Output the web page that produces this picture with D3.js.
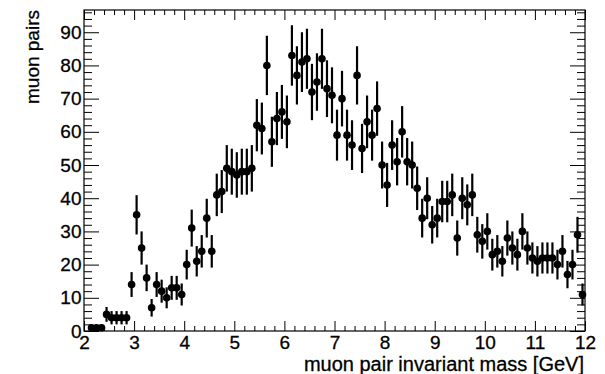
<!DOCTYPE html>
<html>
<head>
<meta charset="utf-8">
<script src="https://cdn.jsdelivr.net/npm/d3@7"></script>
<style>
  html, body { margin: 0; padding: 0; background: #fff; }
  svg { display: block; }
  text { font-family: "Liberation Sans", Arial, Helvetica, sans-serif; fill: #000; stroke: #000; stroke-width: 0.3px; }
</style>
</head>
<body>
<svg id="chart" width="605" height="374"></svg>
<script>
// Bin centres (GeV), 0.1 GeV bins
const massBins = [
  2.05, 2.15, 2.25, 2.35, 2.45, 2.55, 2.65, 2.75, 2.85, 2.95,
  3.05, 3.15, 3.25, 3.35, 3.45, 3.55, 3.65, 3.75, 3.85, 3.95,
  4.05, 4.15, 4.25, 4.35, 4.45, 4.55, 4.65, 4.75, 4.85, 4.95,
  5.05, 5.15, 5.25, 5.35, 5.45, 5.55, 5.65, 5.75, 5.85, 5.95,
  6.05, 6.15, 6.25, 6.35, 6.45, 6.55, 6.65, 6.75, 6.85, 6.95,
  7.05, 7.15, 7.25, 7.35, 7.45, 7.55, 7.65, 7.75, 7.85, 7.95,
  8.05, 8.15, 8.25, 8.35, 8.45, 8.55, 8.65, 8.75, 8.85, 8.95,
  9.05, 9.15, 9.25, 9.35, 9.45, 9.55, 9.65, 9.75, 9.85, 9.95,
  10.05, 10.15, 10.25, 10.35, 10.45, 10.55, 10.65, 10.75, 10.85, 10.95,
  11.05, 11.15, 11.25, 11.35, 11.45, 11.55, 11.65, 11.75, 11.85, 11.95
];
// Counts of muon pairs per bin
const muonPairs = [
  0, 1, 1, 1, 5, 4, 4, 4, 4, 14,
  35, 25, 16, 7, 14, 12, 10, 13, 13, 11,
  20, 31, 21, 24, 34, 24, 41, 42, 49, 48,
  47, 48, 48, 49, 62, 61, 80, 57, 64, 66,
  63, 83, 77, 81, 82, 72, 75, 82, 73, 71,
  59, 70, 59, 56, 77, 55, 63, 59, 67, 50,
  44, 56, 51, 60, 51, 50, 43, 34, 40, 32,
  34, 39, 39, 41, 28, 40, 38, 41, 29, 27,
  30, 23, 24, 21, 28, 25, 23, 30, 25, 22,
  21, 22, 22, 22, 20, 24, 17, 20, 29, 11
];
const binHalfWidth = 0.05;
const xMajorTicks = [2, 3, 4, 5, 6, 7, 8, 9, 10, 11, 12];
const yMajorTicks = [0, 10, 20, 30, 40, 50, 60, 70, 80, 90];
const xTitle = "muon pair invariant mass [GeV]";
const yTitle = "muon pairs";

const svg = d3.select("#chart");
const L = 84, R = 585, T = 10, B = 331;
const x = d3.scaleLinear().domain([2, 12]).range([L, R]);
const y = d3.scaleLinear().domain([0, 96.7]).range([B, T]);

const xMinor = d3.range(2, 12.0001, 0.2).filter(v => Math.abs(v - Math.round(v)) > 1e-6);
const yMinor = d3.range(0, 96.7, 2).filter(v => v % 10 !== 0);

function styleAxis(g) {
  g.select(".domain").remove();
  g.selectAll(".tick line").attr("stroke", "#000").attr("stroke-width", 1);
  g.selectAll(".tick text").attr("font-size", 19).attr("font-family", null);
}

// Bottom axis (labels + major)
svg.append("g").attr("transform", `translate(0,${B})`)
  .call(d3.axisBottom(x).tickValues(xMajorTicks).tickFormat(d3.format("d"))
    .tickSizeInner(-10).tickSizeOuter(0).tickPadding(5))
  .call(styleAxis);
svg.append("g").attr("transform", `translate(0,${B})`)
  .call(d3.axisBottom(x).tickValues(xMinor).tickFormat("").tickSizeInner(-5).tickSizeOuter(0))
  .call(styleAxis);
// Top axis (mirror)
svg.append("g").attr("transform", `translate(0,${T})`)
  .call(d3.axisTop(x).tickValues(xMajorTicks).tickFormat("").tickSizeInner(-10).tickSizeOuter(0))
  .call(styleAxis);
svg.append("g").attr("transform", `translate(0,${T})`)
  .call(d3.axisTop(x).tickValues(xMinor).tickFormat("").tickSizeInner(-5).tickSizeOuter(0))
  .call(styleAxis);
// Left axis
svg.append("g").attr("transform", `translate(${L},0)`)
  .call(d3.axisLeft(y).tickValues(yMajorTicks).tickFormat(d3.format("d"))
    .tickSizeInner(-15).tickSizeOuter(0).tickPadding(2.5))
  .call(styleAxis);
svg.append("g").attr("transform", `translate(${L},0)`)
  .call(d3.axisLeft(y).tickValues(yMinor).tickFormat("").tickSizeInner(-8).tickSizeOuter(0))
  .call(styleAxis);
// Right axis (mirror)
svg.append("g").attr("transform", `translate(${R},0)`)
  .call(d3.axisRight(y).tickValues(yMajorTicks).tickFormat("").tickSizeInner(-15).tickSizeOuter(0))
  .call(styleAxis);
svg.append("g").attr("transform", `translate(${R},0)`)
  .call(d3.axisRight(y).tickValues(yMinor).tickFormat("").tickSizeInner(-8).tickSizeOuter(0))
  .call(styleAxis);

// Frame
svg.append("rect").attr("x", L).attr("y", T).attr("width", R - L).attr("height", B - T)
  .attr("fill", "none").attr("stroke", "#000").attr("stroke-width", 1.2);

// Data points
const data = massBins.map((m, i) => ({ m, n: muonPairs[i], e: Math.sqrt(muonPairs[i]) }))
  .filter(d => d.n > 0);
const pts = svg.append("g");
pts.selectAll("line.ey").data(data).join("line").attr("class", "ey")
  .attr("x1", d => x(d.m)).attr("x2", d => x(d.m))
  .attr("y1", d => y(Math.max(0, d.n - d.e))).attr("y2", d => y(d.n + d.e))
  .attr("stroke", "#000").attr("stroke-width", 2.2);
pts.selectAll("line.ex").data(data).join("line").attr("class", "ex")
  .attr("x1", d => x(d.m - binHalfWidth)).attr("x2", d => x(d.m + binHalfWidth))
  .attr("y1", d => y(d.n)).attr("y2", d => y(d.n))
  .attr("stroke", "#000").attr("stroke-width", 2.2);
pts.selectAll("circle").data(data).join("circle")
  .attr("cx", d => x(d.m)).attr("cy", d => y(d.n)).attr("r", 3.8).attr("fill", "#000");

// Titles
svg.append("text").attr("x", R - 1).attr("y", 371).attr("text-anchor", "end")
  .attr("font-size", 20).text(xTitle);
svg.append("text").attr("transform", `translate(39,${T}) rotate(-90)`)
  .attr("text-anchor", "end").attr("font-size", 19).text(yTitle);
</script>
</body>
</html>
